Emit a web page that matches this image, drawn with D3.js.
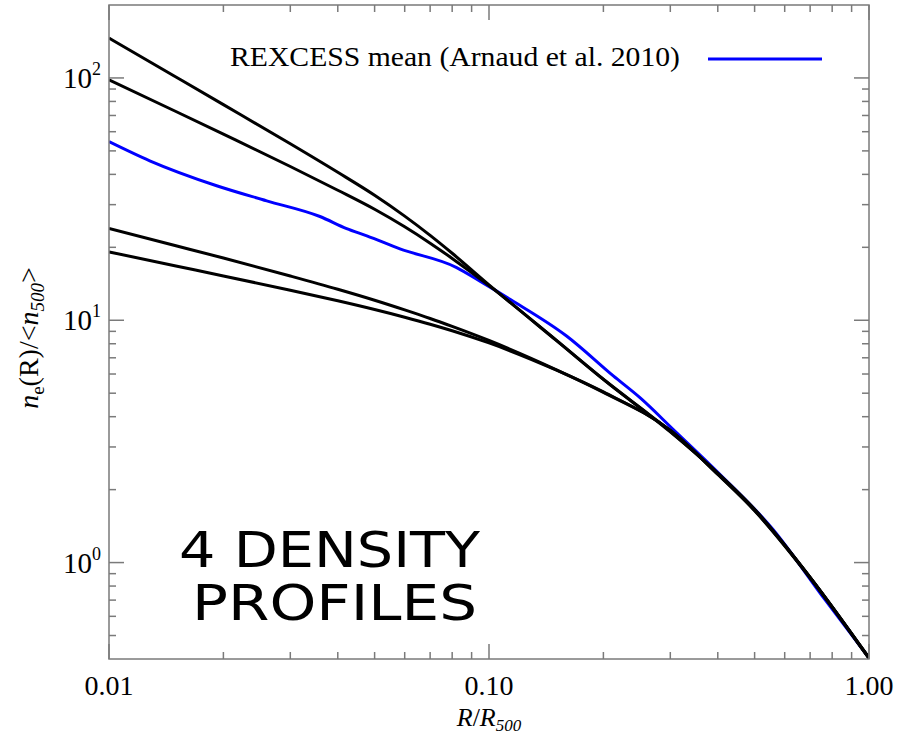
<!DOCTYPE html>
<html>
<head>
<meta charset="utf-8">
<script src="https://cdn.jsdelivr.net/npm/d3@7"></script>
<style>
	body { margin: 0; background: #fff; }
	svg { display: block; }
</style>
</head>
<body>
<script>
// radius grid (R/R500) shared by the 4 black profiles
var radii = [0.01, 0.015, 0.02, 0.03, 0.04, 0.05, 0.06, 0.07, 0.08, 0.1, 0.15, 0.2, 0.3, 0.4, 0.5, 0.7, 1.0];

// the 4 density profiles, ne(R)/<n500>
var profileA = [146, 100.9, 77.6, 53.5, 40.8, 32.8, 26.9, 22.4, 18.9, 14.0, 8.30, 5.71, 3.48, 2.33, 1.65, 0.869, 0.404];
var profileB = [98.1, 72.7, 58.6, 43.1, 34.4, 28.7, 24.3, 20.8, 18.0, 13.9, 8.28, 5.70, 3.46, 2.34, 1.66, 0.868, 0.404];
var profileC = [23.9, 20.3, 18.07, 15.23, 13.42, 12.09, 11.03, 10.17, 9.43, 8.25, 6.26, 5.04, 3.52, 2.32, 1.643, 0.867, 0.403];
var profileD = [19.15, 16.75, 15.24, 13.30, 12.03, 11.07, 10.29, 9.63, 9.05, 8.06, 6.24, 5.06, 3.51, 2.31, 1.637, 0.864, 0.402];

// REXCESS mean (Arnaud et al. 2010)
var rexcessR = [0.01, 0.0128, 0.0192, 0.026, 0.0359, 0.0422, 0.0477, 0.0583, 0.0822, 0.0947, 0.1136,
	0.16, 0.2124, 0.2496, 0.305, 0.40, 0.559, 0.766, 1.0];
var rexcessN = [54.6, 45.5, 35.9, 31.1, 26.8, 23.9, 22.3, 19.7, 16.5, 14.5, 12.2,
	8.61, 5.89, 4.79, 3.55, 2.36, 1.37, 0.703, 0.404];

var legendLabel = 'REXCESS mean (Arnaud et al. 2010)';
var xTickValues = [0.01, 0.1, 1];
var xTickLabels = ['0.01', '0.10', '1.00'];
var yTickValues = [1, 10, 100];
var yTickExps = ['0', '1', '2'];

var WIDTH = 906, HEIGHT = 735;
var LEFT = 109, RIGHT = 869, TOP = 5, BOTTOM = 659;
var AXISGRAY = '#7a7a7a';
var SERIF = '"Liberation Serif", "Times New Roman", serif';

var svg = d3.select('body')
	.append('svg')
	.attr('width', WIDTH)
	.attr('height', HEIGHT);

var x = d3.scaleLog().domain([0.01, 1]).range([LEFT, RIGHT]);
var y = d3.scaleLog().domain([0.4, 200]).range([BOTTOM, TOP]);

// ------------------------ MINOR / MAJOR TICK VALUES ------------------------
var xMinor = [], yMinor = [];
[0.01, 0.1].forEach(function(dec) {
	for (var k = 2; k <= 9; k++) xMinor.push(dec * k);
});
[0.1, 1, 10, 100].forEach(function(dec) {
	for (var k = 2; k <= 9; k++) {
		var v = dec * k;
		if (v > 0.4 && v < 200) yMinor.push(v);
	}
});

// ------------------------ CURVES ------------------------
var line = d3.line()
	.x(function(d) { return x(d[0]); })
	.y(function(d) { return y(d[1]); })
	.curve(d3.curveMonotoneX);

svg.append('clipPath').attr('id', 'plotclip')
	.append('rect')
	.attr('x', LEFT).attr('y', TOP)
	.attr('width', RIGHT - LEFT).attr('height', BOTTOM - TOP + 2);

var plot = svg.append('g').attr('clip-path', 'url(#plotclip)');

plot.append('path')
	.datum(d3.zip(rexcessR, rexcessN))
	.attr('d', line)
	.attr('fill', 'none')
	.attr('stroke', '#0000ff')
	.attr('stroke-width', 3);

plot.selectAll('.profile')
	.data([profileA, profileB, profileC, profileD])
	.enter()
	.append('path')
	.attr('class', 'profile')
	.attr('d', function(p) { return line(d3.zip(radii, p)); })
	.attr('fill', 'none')
	.attr('stroke', '#000')
	.attr('stroke-width', 3)
	.attr('stroke-linejoin', 'round');

// ------------------------ FRAME + TICKS ------------------------
var axes = svg.append('g').attr('stroke', AXISGRAY).attr('stroke-width', 1.5);

axes.append('rect')
	.attr('x', LEFT).attr('y', TOP)
	.attr('width', RIGHT - LEFT).attr('height', BOTTOM - TOP)
	.attr('fill', 'none');

function xTicks(vals, len) {
	vals.forEach(function(v) {
		axes.append('line').attr('x1', x(v)).attr('x2', x(v)).attr('y1', BOTTOM).attr('y2', BOTTOM - len);
		axes.append('line').attr('x1', x(v)).attr('x2', x(v)).attr('y1', TOP).attr('y2', TOP + len);
	});
}
function yTicks(vals, len) {
	vals.forEach(function(v) {
		axes.append('line').attr('y1', y(v)).attr('y2', y(v)).attr('x1', LEFT).attr('x2', LEFT + len);
		axes.append('line').attr('y1', y(v)).attr('y2', y(v)).attr('x1', RIGHT).attr('x2', RIGHT - len);
	});
}
xTicks(xTickValues, 15);
xTicks(xMinor, 7);
yTicks(yTickValues, 15);
yTicks(yMinor, 7);

// ------------------------ TICK LABELS ------------------------
svg.selectAll('.xlab')
	.data(xTickValues)
	.enter()
	.append('text')
	.attr('class', 'xlab')
	.attr('x', function(d) { return x(d); })
	.attr('y', 695)
	.attr('text-anchor', 'middle')
	.attr('font-family', SERIF)
	.attr('font-size', 28)
	.text(function(d, i) { return xTickLabels[i]; });

var ylab = svg.selectAll('.ylab')
	.data(yTickValues)
	.enter()
	.append('text')
	.attr('class', 'ylab')
	.attr('x', 101)
	.attr('y', function(d) { return y(d) + 10; })
	.attr('text-anchor', 'end')
	.attr('font-family', SERIF)
	.attr('font-size', 29);
ylab.append('tspan').text('10');
ylab.append('tspan')
	.attr('dy', -13)
	.attr('font-size', 18)
	.text(function(d, i) { return yTickExps[i]; });

// ------------------------ AXIS TITLES ------------------------
var xt = svg.append('text')
	.attr('x', 489)
	.attr('y', 726)
	.attr('text-anchor', 'middle')
	.attr('font-family', SERIF)
	.attr('font-size', 26);
xt.append('tspan').attr('font-style', 'italic').text('R');
xt.append('tspan').text('/');
xt.append('tspan').attr('font-style', 'italic').text('R');
xt.append('tspan').attr('font-style', 'italic').attr('font-size', 17).attr('dy', 5).text('500');

var yt = svg.append('text')
	.attr('transform', 'translate(38,338) rotate(-90)')
	.attr('text-anchor', 'middle')
	.attr('font-family', SERIF)
	.attr('font-size', 28);
yt.append('tspan').attr('font-style', 'italic').text('n');
yt.append('tspan').attr('font-size', 19).attr('dy', 6).text('e');
yt.append('tspan').attr('dy', -6).text('(R)/<');
yt.append('tspan').attr('font-style', 'italic').text('n');
yt.append('tspan').attr('font-style', 'italic').attr('font-size', 19).attr('dy', 6).text('500');
yt.append('tspan').attr('dy', -6).text('>');

// ------------------------ LEGEND ------------------------
svg.append('text')
	.attr('x', 230)
	.attr('y', 66)
	.attr('font-family', SERIF)
	.attr('font-size', 28)
	.attr('textLength', 450)
	.attr('lengthAdjust', 'spacingAndGlyphs')
	.text(legendLabel);

svg.append('line')
	.attr('x1', 708).attr('x2', 822)
	.attr('y1', 59).attr('y2', 59)
	.attr('stroke', '#0000ff')
	.attr('stroke-width', 3);

// ------------------------ ANNOTATION ------------------------
var note = svg.append('g')
	.attr('font-family', '"DejaVu Sans", sans-serif')
	.attr('font-size', 50)
	.attr('fill', '#000');
note.append('text')
	.attr('x', 179).attr('y', 567)
	.attr('textLength', 301)
	.attr('lengthAdjust', 'spacingAndGlyphs')
	.text('4 DENSITY');
note.append('text')
	.attr('x', 192).attr('y', 620)
	.attr('textLength', 285)
	.attr('lengthAdjust', 'spacingAndGlyphs')
	.text('PROFILES');
</script>
</body>
</html>
